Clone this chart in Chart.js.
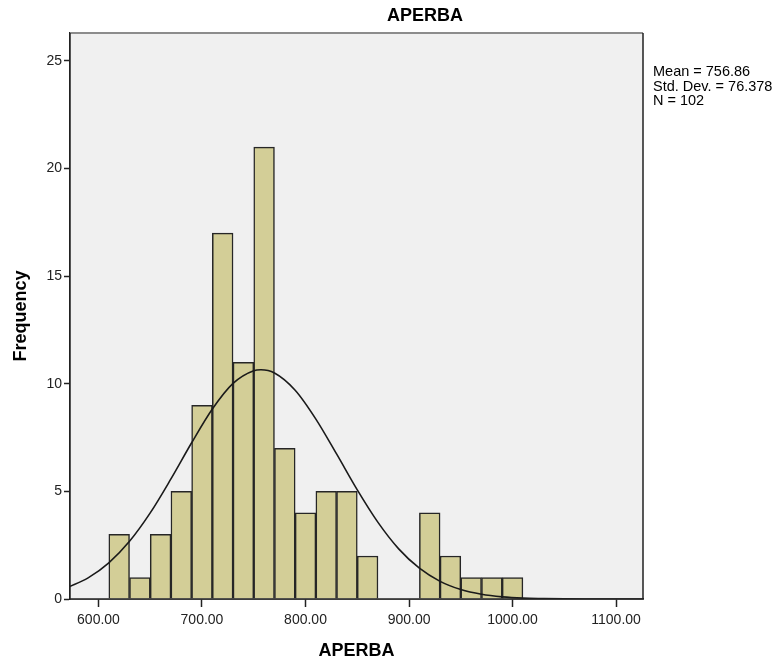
<!DOCTYPE html>
<html>
<head>
<meta charset="utf-8">
<script src="https://cdn.jsdelivr.net/npm/chart.js@4/dist/chart.umd.min.js"></script>
<style>
  html, body { margin: 0; padding: 0; background: #fff; }
  canvas { display: block; }
</style>
</head>
<body>
<canvas id="chart" width="778" height="665"></canvas>
<script>
// histogram bins (centre of each 20-wide bin) and counts
var binCenters = [620, 640, 660, 680, 700, 720, 740, 760, 780, 800, 820, 840, 860, 880, 900, 920, 940, 960, 980, 1000];
var counts     = [3, 1, 3, 5, 9, 17, 11, 21, 7, 4, 5, 5, 2, 0, 0, 4, 2, 1, 1, 1];

// normal curve
var curveX = [570, 590, 610, 630, 650, 670, 690, 710, 730, 750, 757, 770, 790, 810, 830, 850, 870, 890, 910, 930, 950, 970, 990, 1010, 1030, 1050, 1070, 1090, 1110, 1130];
var curveY = [0.53, 0.98, 1.68, 2.68, 4.0, 5.58, 7.26, 8.83, 10.02, 10.61, 10.65, 10.5, 9.7, 8.36, 6.74, 5.07, 3.56, 2.33, 1.43, 0.82, 0.44, 0.22, 0.1, 0.04, 0.02, 0.007, 0.002, 0.001, 0, 0];

var xTickValues = [600, 700, 800, 900, 1000, 1100];
var yTickValues = [0, 5, 10, 15, 20, 25];

var chartTitle = 'APERBA';
var statsLines = ['Mean = 756.86', 'Std. Dev. = 76.378', 'N = 102'];

var FONT = 'Arial, "Liberation Sans", sans-serif';

var barData = binCenters.map(function (c, i) { return { x: c, y: counts[i] }; });
var curveData = curveX.map(function (x, i) { return { x: x, y: curveY[i] }; });

// plot background, frame, title and stats box
var decorations = {
    id: 'decorations',
    beforeDatasetsDraw: function (chart) {
        var a = chart.chartArea, ctx = chart.ctx;
        ctx.save();
        ctx.fillStyle = '#f0f0f0';
        ctx.fillRect(a.left, a.top, a.right - a.left, a.bottom - a.top);
        ctx.restore();
    },
    afterDraw: function (chart) {
        var a = chart.chartArea, ctx = chart.ctx;
        ctx.save();
        // frame
        ctx.strokeStyle = '#8c8c8c';
        ctx.lineWidth = 2;
        ctx.beginPath();
        ctx.moveTo(a.left, a.top);
        ctx.lineTo(a.right, a.top);
        ctx.stroke();
        ctx.strokeStyle = '#222';
        ctx.lineWidth = 1.5;
        ctx.beginPath();
        ctx.moveTo(a.left, a.top);
        ctx.lineTo(a.left, a.bottom);
        ctx.lineTo(a.right, a.bottom);
        ctx.lineTo(a.right, a.top);
        ctx.stroke();
        // title
        ctx.fillStyle = '#000';
        ctx.font = 'bold 18px ' + FONT;
        ctx.textAlign = 'center';
        ctx.textBaseline = 'middle';
        ctx.fillText(chartTitle, 425, 16);
        // stats
        ctx.font = '14.5px ' + FONT;
        ctx.textAlign = 'left';
        for (var i = 0; i < statsLines.length; i++) {
            ctx.fillText(statsLines[i], 653, 72 + i * 14.5);
        }
        ctx.restore();
    }
};

var ctx = document.getElementById('chart');
var chart = new Chart(ctx, {
    type: 'bar',
    data: {
        datasets: [
            {
                type: 'line',
                data: curveData,
                borderColor: '#1a1a1a',
                borderWidth: 1.6,
                pointRadius: 0,
                fill: false,
                cubicInterpolationMode: 'monotone',
                order: 0
            },
            {
                type: 'bar',
                data: barData,
                backgroundColor: '#d3ce97',
                borderColor: '#262626',
                borderWidth: 1.5,
                barPercentage: 1,
                categoryPercentage: 1,
                grouped: false,
                order: 1
            }
        ]
    },
    options: {
        responsive: false,
        animation: false,
        layout: { padding: { top: 33, right: 135, left: 0, bottom: 0 } },
        plugins: { legend: { display: false }, tooltip: { enabled: false } },
        scales: {
            x: {
                type: 'linear',
                offset: false,
                min: 572.5,
                max: 1126,
                afterBuildTicks: function (s) { s.ticks = xTickValues.map(function (v) { return { value: v }; }); },
                afterFit: function (s) { s.height = 66; },
                ticks: {
                    autoSkip: false,
                    maxRotation: 0,
                    padding: 5,
                    color: '#222',
                    font: { family: FONT, size: 14 },
                    callback: function (v) { return Number(v).toFixed(2); }
                },
                grid: { offset: false, drawOnChartArea: false, tickLength: 8, color: '#222', tickWidth: 1.5 },
                border: { color: '#222', width: 1.5 },
                title: {
                    display: true,
                    text: 'APERBA',
                    color: '#000',
                    font: { family: FONT, size: 18, weight: 'bold' },
                    padding: { top: 0, bottom: 3 }
                }
            },
            y: {
                min: 0,
                max: 26.3,
                afterBuildTicks: function (s) { s.ticks = yTickValues.map(function (v) { return { value: v }; }); },
                afterFit: function (s) { s.width = 70; },
                ticks: {
                    padding: 2,
                    color: '#222',
                    font: { family: FONT, size: 14 }
                },
                grid: { drawOnChartArea: false, tickLength: 6, color: '#222', tickWidth: 1.5 },
                border: { color: '#222', width: 1.5 },
                title: {
                    display: true,
                    text: 'Frequency',
                    color: '#000',
                    font: { family: FONT, size: 18, weight: 'bold' },
                    padding: { top: 10, bottom: 0 }
                }
            }
        }
    },
    plugins: [decorations]
});
</script>
</body>
</html>
